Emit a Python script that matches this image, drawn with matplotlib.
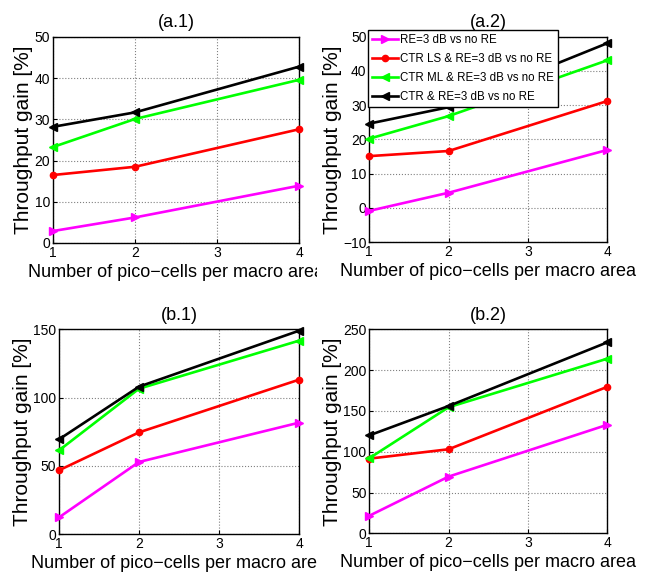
import matplotlib

matplotlib.use("Agg")

import matplotlib.pyplot as plt
from matplotlib.transforms import Bbox, TransformedBbox

plt.rcParams["font.family"] = ["Liberation Sans", "DejaVu Sans"]

# 横轴：每个宏小区的 pico 小区数
x = [1, 2, 4]

series_names = [
    "RE=3 dB vs no RE",
    "CTR LS & RE=3 dB vs no RE",
    "CTR ML & RE=3 dB vs no RE",
    "CTR & RE=3 dB vs no RE",
]

# (a.1)
a1_re = [2.9, 6.2, 13.9]
a1_ls = [16.5, 18.5, 27.6]
a1_ml = [23.3, 30.1, 39.6]
a1_ctr = [28.2, 31.7, 42.8]

# (a.2)
a2_re = [-0.9, 4.4, 16.9]
a2_ls = [15.1, 16.6, 31.2]
a2_ml = [20.2, 26.8, 43.1]
a2_ctr = [24.6, 29.4, 48.1]

# (b.1)
b1_re = [12.2, 52.8, 81.6]
b1_ls = [46.7, 74.5, 113.1]
b1_ml = [61.3, 106.5, 141.7]
b1_ctr = [69.4, 108.0, 149.0]

# (b.2)
b2_re = [21.5, 69.5, 133.0]
b2_ls = [91.5, 103.0, 179.5]
b2_ml = [92.0, 154.5, 214.0]
b2_ctr = [120.0, 156.0, 234.0]

colors = ["#ff00ff", "#ff0000", "#00ff00", "#000000"]
markers = [">", "o", "<", "<"]
msizes = [5.5, 4.5, 5.5, 5.5]

panels = [
    ("(a.1)", [a1_re, a1_ls, a1_ml, a1_ctr], (0, 50), [0, 10, 20, 30, 40, 50],
     [0.0812, 0.5796, 0.3767, 0.3564]),
    ("(a.2)", [a2_re, a2_ls, a2_ml, a2_ctr], (-10, 50), [-10, 0, 10, 20, 30, 40, 50],
     [0.5655, 0.5813, 0.3645, 0.3552]),
    ("(b.1)", [b1_re, b1_ls, b1_ml, b1_ctr], (0, 150), [0, 50, 100, 150],
     [0.0904, 0.0761, 0.3675, 0.3541]),
    ("(b.2)", [b2_re, b2_ls, b2_ml, b2_ctr], (0, 250), [0, 50, 100, 150, 200, 250],
     [0.5655, 0.0773, 0.3645, 0.3530]),
]

fig = plt.figure(figsize=(6.53, 5.78), dpi=100)

axes = []
for i, (title, data, ylim, yticks, rect) in enumerate(panels):
    ax = fig.add_axes(rect)
    for ys, c, m, ms, name in zip(data, colors, markers, msizes, series_names):
        ax.plot(x, ys, "-", color=c, marker=m, markersize=ms, linewidth=1.9,
                label=name, clip_on=False, zorder=3)
    ax.set_xlim(1, 4)
    ax.set_ylim(*ylim)
    ax.set_xticks([1, 2, 3, 4])
    ax.set_yticks(yticks)
    ax.tick_params(direction="in", length=3, labelsize=10, pad=2)
    ax.grid(True, linestyle=":", color="#808080", linewidth=0.8)
    for s in ax.spines.values():
        s.set_linewidth(1.0)
    ax.set_title(title, fontsize=13, pad=7)
    ax.set_xlabel("Number of pico\u2212cells per macro area", fontsize=13, labelpad=3)
    ax.set_ylabel("Throughput gain [%]", fontsize=15, labelpad=1)
    axes.append(ax)

# 左边两个子图的 x 轴标签被右侧子图遮住一部分
for ax in (axes[0], axes[2]):
    clip = TransformedBbox(Bbox([[0, 0], [0.4855, 1]]), fig.transFigure)
    ax.xaxis.label.set_clip_box(clip)
    ax.xaxis.label.set_clip_on(True)

leg = axes[1].legend(loc="upper left", bbox_to_anchor=(-0.004, 1.033),
                     borderaxespad=0, fontsize=8.3, handlelength=2.2,
                     handletextpad=0.2, labelspacing=0.6, borderpad=0.35,
                     fancybox=False, framealpha=1, edgecolor="black")
leg.get_frame().set_linewidth(1.0)

plt.savefig("out.png", dpi=100)
